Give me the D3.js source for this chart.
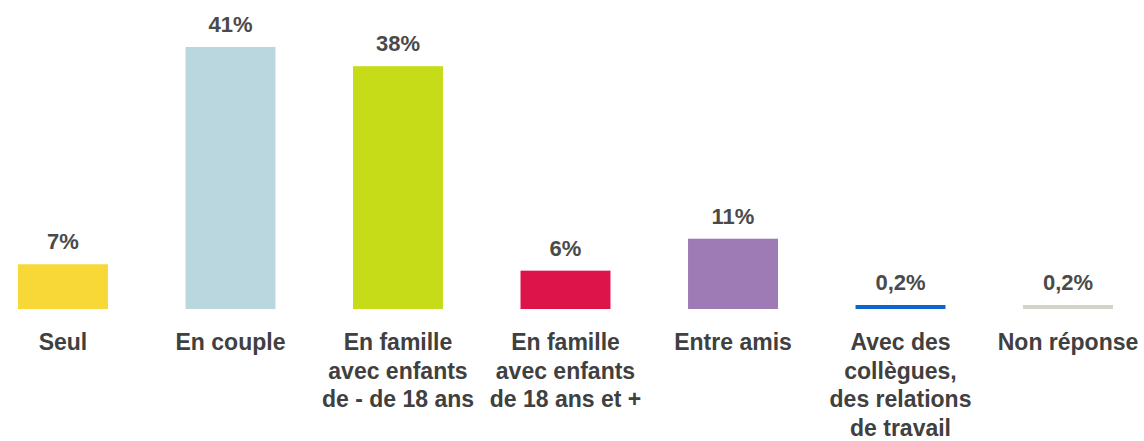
<!DOCTYPE html>
<html>
<head>
<meta charset="utf-8">
<script src="https://cdn.jsdelivr.net/npm/d3@7"></script>
<style>
  html, body { margin: 0; padding: 0; background: #ffffff; }
  svg { display: block; font-family: "Liberation Sans", Arial, sans-serif; }
</style>
</head>
<body>
<svg id="chart" width="1144" height="441"></svg>
<script>
const categories = [
  ["Seul"],
  ["En couple"],
  ["En famille", "avec enfants", "de - de 18 ans"],
  ["En famille", "avec enfants", "de 18 ans et +"],
  ["Entre amis"],
  ["Avec des", "collègues,", "des relations", "de travail"],
  ["Non réponse"]
];
const values = [7, 41, 38, 6, 11, 0.2, 0.2];
const valueLabels = ["7%", "41%", "38%", "6%", "11%", "0,2%", "0,2%"];
const colors = ["#f8d837", "#bad6de", "#c6dc19", "#dd1449", "#9e7bb5", "#0d66cb", "#d3d3c7"];

const svg = d3.select("#chart");
const baseY = 309;
const topY = 47;

const x = d3.scaleBand()
  .domain(d3.range(values.length))
  .range([18, 1113])
  .paddingInner(0.463)
  .paddingOuter(0);

const y = d3.scaleLinear()
  .domain([0, 41])
  .range([baseY, topY]);

const minH = 4;
const barTop = v => Math.min(y(v), baseY - minH);

svg.selectAll("rect.bar")
  .data(values)
  .join("rect")
  .attr("class", "bar")
  .attr("x", (d, i) => x(i))
  .attr("width", x.bandwidth())
  .attr("y", d => barTop(d))
  .attr("height", d => baseY - barTop(d))
  .attr("fill", (d, i) => colors[i]);

svg.selectAll("text.val")
  .data(values)
  .join("text")
  .attr("class", "val")
  .attr("x", (d, i) => x(i) + x.bandwidth() / 2)
  .attr("y", d => barTop(d) - 15)
  .attr("text-anchor", "middle")
  .attr("font-size", "22px")
  .attr("font-weight", "bold")
  .attr("fill", "#4a4a4a")
  .text((d, i) => valueLabels[i]);

const cat = svg.selectAll("text.cat")
  .data(categories)
  .join("text")
  .attr("class", "cat")
  .attr("text-anchor", "middle")
  .attr("font-size", "23px")
  .attr("font-weight", "bold")
  .attr("fill", "#404040");

cat.selectAll("tspan")
  .data((d, i) => d.map(line => ({ line, i })))
  .join("tspan")
  .attr("x", d => x(d.i) + x.bandwidth() / 2)
  .attr("y", (d, j) => 350 + j * 28.7)
  .text(d => d.line);
</script>
</body>
</html>
